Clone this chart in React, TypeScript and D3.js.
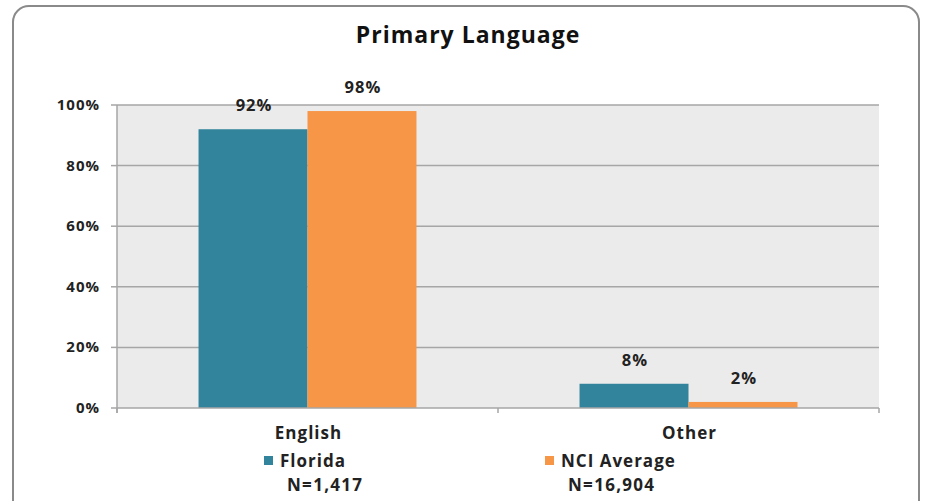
import React from "react";
import * as d3 from "d3";

const categories = ["English", "Other"];
const seriesNames = ["Florida", "NCI Average"];
const seriesN = ["N=1,417", "N=16,904"];
const florida = [0.92, 0.08];
const nci = [0.98, 0.02];
const yTicks = [0, 0.2, 0.4, 0.6, 0.8, 1.0];
const colors = ["#31849B", "#F79646"];

const W = 926, H = 501;
const L = 117, R = 879, T = 105, B = 408;
const FONT = "'Open Sans', sans-serif";

export default function App() {
  const x = d3.scaleBand<string>().domain(categories).range([L, R]).paddingInner(0.428).paddingOuter(0.214);
  const sub = d3.scaleBand<string>().domain(seriesNames).range([0, x.bandwidth()]);
  const y = d3.scaleLinear().domain([0, 1]).range([B, T]);
  const fmt = d3.format(".0%");
  const series = [florida, nci];
  const step = x.step();
  const boundaries = [L, L + step, R];
  const legendX = [264, 545];
  return (
    <svg width={W} height={H} style={{ position: "absolute", left: 0, top: 0 }}>
      <rect x={0} y={0} width={W} height={H} fill="#fff" />
      <rect x={13} y={6} width={906} height={520} rx={16} fill="#fff" stroke="#8a8a8a" strokeWidth={2} />
      <text x={468} y={43} textAnchor="middle" fontFamily={FONT} fontWeight="bold" fontSize={23} letterSpacing={1} fill="#111">Primary Language</text>
      <rect x={L} y={T} width={R - L} height={B - T} fill="#EBEBEB" />
      {yTicks.map((t) => (
        <g key={t}>
          {t > 0 && <line x1={L} x2={R} y1={y(t)} y2={y(t)} stroke="#A6A6A6" strokeWidth={1.5} />}
          <line x1={L - 6} x2={L} y1={y(t)} y2={y(t)} stroke="#A6A6A6" strokeWidth={1.5} />
          <text x={100} y={y(t) + 5} textAnchor="end" fontFamily={FONT} fontWeight="bold" fontSize={15} letterSpacing={1} fill="#222">{fmt(t)}</text>
        </g>
      ))}
      {categories.map((c, i) =>
        series.map((s, j) => {
          const bx = (x(c) as number) + (sub(seriesNames[j]) as number);
          return (
            <g key={c + j}>
              <rect x={bx} y={y(s[i])} width={sub.bandwidth()} height={B - y(s[i])} fill={colors[j]} />
              <text x={bx + sub.bandwidth() / 2 + 1} y={y(s[i]) - 18} textAnchor="middle" fontFamily={FONT} fontWeight="bold" fontSize={16.5} letterSpacing={1} fill="#222">{fmt(s[i])}</text>
            </g>
          );
        })
      )}
      <line x1={L} x2={L} y1={T} y2={B + 5} stroke="#A6A6A6" strokeWidth={1.5} />
      <line x1={L} x2={R} y1={B} y2={B} stroke="#A6A6A6" strokeWidth={1.5} />
      {boundaries.map((b) => (
        <line key={b} x1={b} x2={b} y1={B} y2={B + 5} stroke="#A6A6A6" strokeWidth={1.5} />
      ))}
      {categories.map((c) => (
        <text key={c} x={(x(c) as number) + x.bandwidth() / 2 + 1} y={439} textAnchor="middle" fontFamily={FONT} fontWeight="bold" fontSize={17} letterSpacing={1} fill="#222">{c}</text>
      ))}
      {seriesNames.map((n, j) => (
        <g key={n}>
          <rect x={legendX[j]} y={456} width={9} height={9} fill={colors[j]} />
          <text x={legendX[j] + 16} y={467} fontFamily={FONT} fontWeight="bold" fontSize={17} letterSpacing={1} fill="#222">{n}</text>
          <text x={legendX[j] + 23} y={491} fontFamily={FONT} fontWeight="bold" fontSize={17} letterSpacing={1.3} fill="#222">{seriesN[j]}</text>
        </g>
      ))}
    </svg>
  );
}
